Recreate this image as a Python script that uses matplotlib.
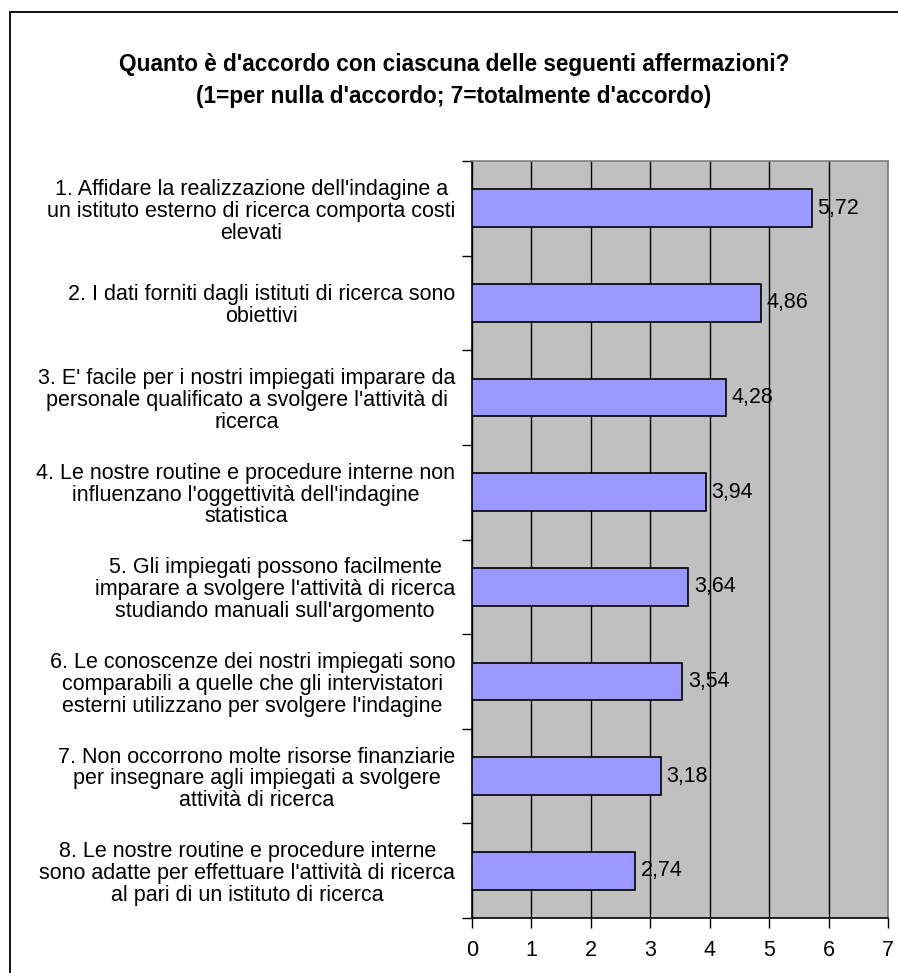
import matplotlib
matplotlib.use("Agg")
import matplotlib.pyplot as plt
from matplotlib.patches import Rectangle
import numpy as np

plt.rcParams['font.family'] = ['Liberation Sans', 'DejaVu Sans']

categories = [
    "1. Affidare la realizzazione dell'indagine a\nun istituto esterno di ricerca comporta costi\nelevati",
    "2. I dati forniti dagli istituti di ricerca sono\nobiettivi",
    "3. E' facile per i nostri impiegati imparare da\npersonale qualificato a svolgere l'attività di\nricerca",
    "4. Le nostre routine e procedure interne non\ninfluenzano l'oggettività dell'indagine\nstatistica",
    "5. Gli impiegati possono facilmente\nimparare a svolgere l'attività di ricerca\nstudiando manuali sull'argomento",
    "6. Le conoscenze dei nostri impiegati sono\ncomparabili a quelle che gli intervistatori\nesterni utilizzano per svolgere l'indagine",
    "7. Non occorrono molte risorse finanziarie\nper insegnare agli impiegati a svolgere\nattività di ricerca",
    "8. Le nostre routine e procedure interne\nsono adatte per effettuare l'attività di ricerca\nal pari di un istituto di ricerca",
]
values = [5.72, 4.86, 4.28, 3.94, 3.64, 3.54, 3.18, 2.74]
value_labels = ["5,72", "4,86", "4,28", "3,94", "3,64", "3,54", "3,18", "2,74"]
xticks = [0, 1, 2, 3, 4, 5, 6, 7]

W, H = 898, 973
fig = plt.figure(figsize=(W / 100, H / 100), dpi=100)
fig.patch.set_facecolor('white')

# plot area in pixels: x 472..888, y 161..918
ax = fig.add_axes([472 / W, 1 - 918 / H, (888 - 472) / W, (918 - 161) / H])
ax.set_facecolor('#C0C0C0')

n = len(categories)
pos = np.arange(n)
ax.barh(pos, values, height=0.4, color='#9999FF', edgecolor='black', linewidth=1.2, zorder=3)

ax.set_xlim(0, 7)
ax.set_ylim(n - 0.5, -0.5)

ax.set_xticks(xticks)
ax.set_xticklabels([str(t) for t in xticks], fontsize=15.5)
ax.tick_params(axis='x', direction='out', length=7, width=1, pad=9, colors='black')

ax.set_yticks(pos)
ax.set_yticklabels(categories, fontsize=15.5)
for lbl in ax.get_yticklabels():
    lbl.set_multialignment('center')
    lbl.set_linespacing(1.05)
ax.tick_params(axis='y', which='major', length=0, pad=12)
ax.set_yticks(np.arange(n + 1) - 0.5, minor=True)
ax.tick_params(axis='y', which='minor', direction='out', length=7, width=1, colors='black')

ax.grid(axis='x', color='black', linewidth=1, zorder=1)
ax.set_axisbelow(True)

for s in ['left', 'bottom']:
    ax.spines[s].set_color('black')
    ax.spines[s].set_linewidth(1.2)
for s in ['top', 'right']:
    ax.spines[s].set_color('#808080')
    ax.spines[s].set_linewidth(1.2)

for p, v, t in zip(pos, values, value_labels):
    ax.annotate(t, (v, p), xytext=(4, 0), textcoords='offset points',
                va='center', ha='left', fontsize=15.5, zorder=4)

fig.text(454 / W, 1 - 64 / H, "Quanto è d'accordo con ciascuna delle seguenti affermazioni?",
         ha='center', va='center', fontsize=16.3, fontweight='bold')
fig.text(454 / W, 1 - 97 / H, "(1=per nulla d'accordo; 7=totalmente d'accordo)",
         ha='center', va='center', fontsize=16.3, fontweight='bold')

# outer chart border
fig.patches.append(Rectangle((10 / W, -0.05), 1.2, 1 - 12 / H + 0.05,
                             transform=fig.transFigure, fill=False,
                             edgecolor='black', linewidth=1.3))

fig.savefig('out.png', dpi=100)
